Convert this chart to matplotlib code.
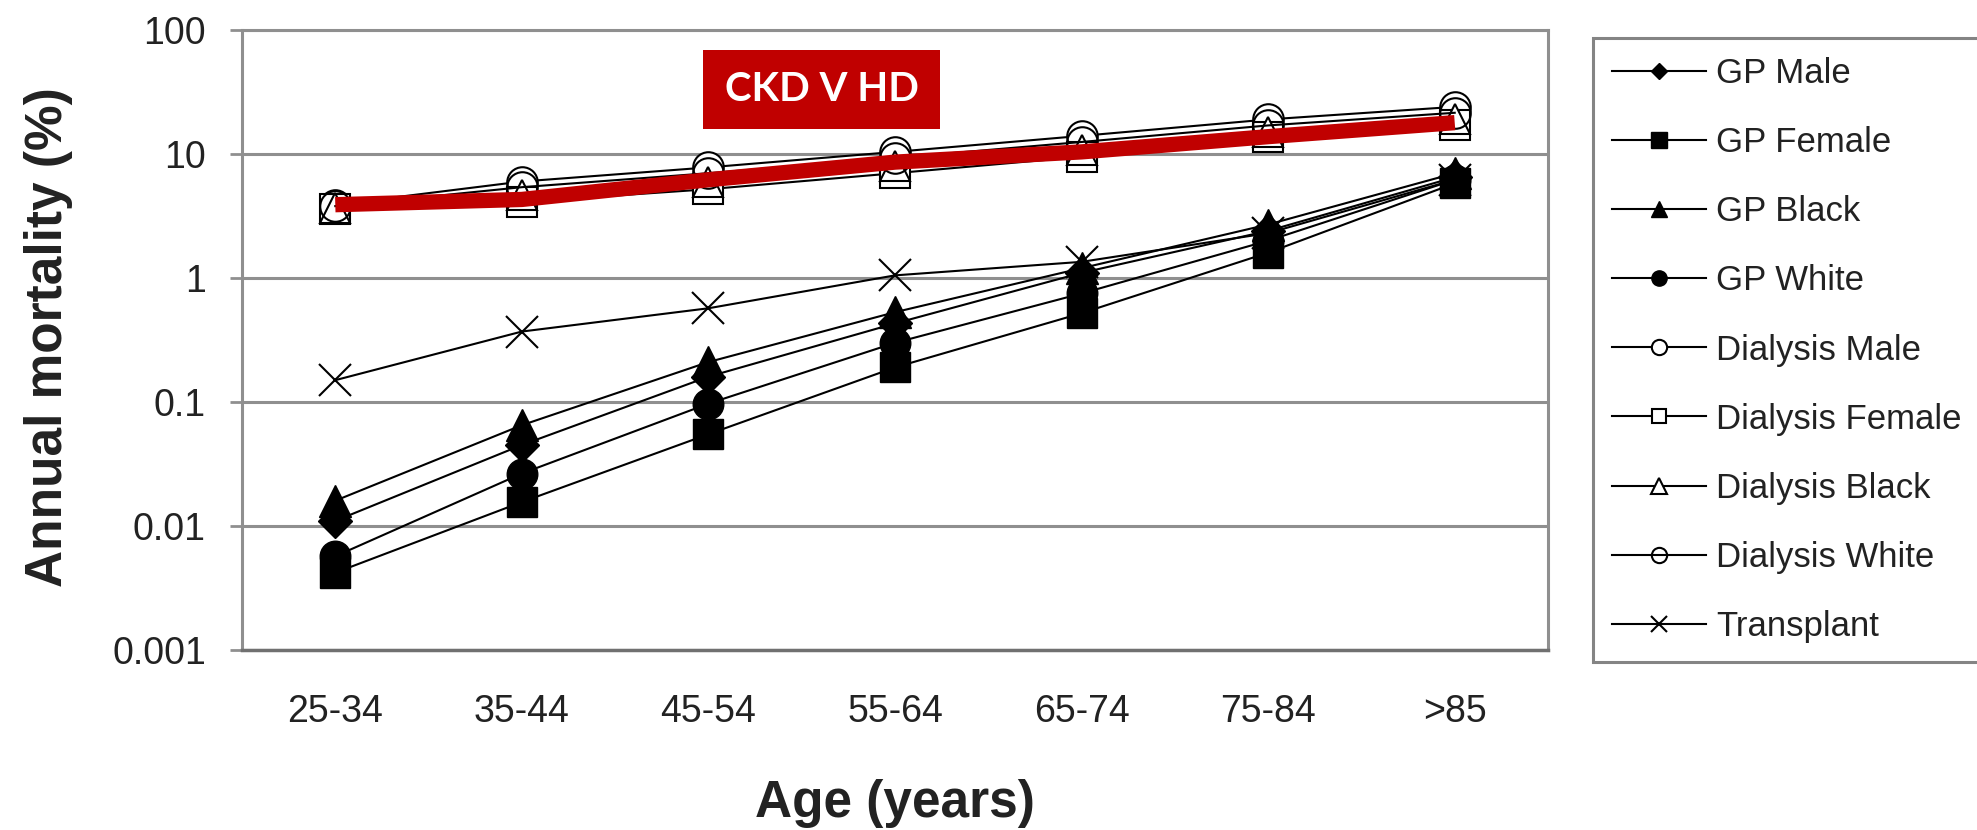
import matplotlib
matplotlib.use("Agg")
import matplotlib.pyplot as plt
from matplotlib.patches import Rectangle

plt.rcParams['font.family'] = ['Liberation Sans', 'DejaVu Sans']

# data (annual mortality, %)
ages = ['25-34', '35-44', '45-54', '55-64', '65-74', '75-84', '>85']
gp_male = [0.011, 0.045, 0.16, 0.43, 1.1, 2.4, 6.5]
gp_female = [0.0042, 0.0156, 0.055, 0.19, 0.52, 1.6, 5.8]
gp_black = [0.016, 0.065, 0.21, 0.53, 1.2, 2.7, 7.0]
gp_white = [0.0057, 0.0265, 0.097, 0.30, 0.75, 2.0, 6.2]
dial_male = [3.9, 6.0, 7.8, 10.4, 14, 19, 24]
dial_female = [3.6, 4.1, 5.2, 7.0, 9.5, 13.7, 17]
dial_black = [3.7, 4.7, 6.0, 8.0, 10.8, 15, 19]
dial_white = [3.8, 5.4, 7.0, 9.3, 12.5, 17, 21.5]
transplant = [0.15, 0.37, 0.57, 1.05, 1.35, 2.3, 6.2]
ckd_hd = [3.9, 4.3, 6.2, 8.6, 10.4, 13.8, 17.9]

y_ticks = [0.001, 0.01, 0.1, 1, 10, 100]
y_labels = ['0.001', '0.01', '0.1', '1', '10', '100']

W, H = 1977, 830
fig = plt.figure(figsize=(W / 100, H / 100), dpi=100)
ax = fig.add_axes([242 / W, 1 - 650 / H, 1306 / W, 620 / H])

x = list(range(len(ages)))
grid_col = '#8f8f8f'

# transplant first so the black GP markers sit over it
ax.plot(x, transplant, color='black', lw=1.5, marker='x', ms=23, mec='black', mew=1.5, label='Transplant', zorder=2)
# GP series, filled markers
ax.plot(x, gp_male, color='black', lw=1.5, marker='D', ms=17, mfc='black', mec='black', label='GP Male', zorder=3)
ax.plot(x, gp_female, color='black', lw=1.5, marker='s', ms=22, mfc='black', mec='black', label='GP Female', zorder=3)
ax.plot(x, gp_black, color='black', lw=1.5, marker='^', ms=23, mfc='black', mec='black', label='GP Black', zorder=3)
ax.plot(x, gp_white, color='black', lw=1.5, marker='o', ms=22, mfc='black', mec='black', label='GP White', zorder=3)
# dialysis series, open markers
ax.plot(x, dial_male, color='black', lw=1.5, marker='o', ms=22, mfc='white', mec='black', mew=1.5, label='Dialysis Male', zorder=3)
ax.plot(x, dial_female, color='black', lw=1.5, marker='s', ms=21, mfc='white', mec='black', mew=1.5, label='Dialysis Female', zorder=3)
ax.plot(x, dial_black, color='black', lw=1.5, marker='^', ms=22, mfc='white', mec='black', mew=1.5, label='Dialysis Black', zorder=3)
ax.plot(x, dial_white, color='black', lw=1.5, marker='o', ms=22, mfc='none', mec='black', mew=1.5, label='Dialysis White', zorder=3)

# red overlay line
ax.plot(x, ckd_hd, color='#C00000', lw=11, solid_capstyle='butt', zorder=10)

ax.set_yscale('log')
ax.set_ylim(0.001, 100)
ax.set_xlim(-0.5, len(ages) - 0.5)
ax.set_yticks(y_ticks)
ax.set_yticklabels(y_labels)
ax.yaxis.set_minor_locator(matplotlib.ticker.NullLocator())
ax.set_xticks(x)
ax.set_xticklabels(ages)

ax.grid(axis='y', color=grid_col, lw=2.2)
ax.set_axisbelow(True)
for s in ['left', 'right', 'top']:
    ax.spines[s].set_color(grid_col)
    ax.spines[s].set_linewidth(2.2)
ax.spines['bottom'].set_color('#707070')
ax.spines['bottom'].set_linewidth(2.5)

ax.tick_params(axis='y', length=9, width=2, color=grid_col, pad=17, labelsize=27, labelcolor='#222222')
ax.tick_params(axis='x', length=0, pad=32, labelsize=27, labelcolor='#222222')

fig.text(49 / W, 1 - 337 / H, 'Annual mortality (%)', rotation=90, ha='center', va='center',
         fontsize=37, fontweight='bold', color='#222222')
fig.text(895 / W, 1 - 803 / H, 'Age (years)', ha='center', va='center',
         fontsize=37, fontweight='bold', color='#222222')

# red label box
ax.add_patch(Rectangle((0.353, 0.840), 0.1815, 0.1275, transform=ax.transAxes,
                       facecolor='#C00000', edgecolor='none', zorder=11, clip_on=False))
ax.text(0.353 + 0.1815 / 2, 0.840 + 0.1275 / 2, 'CKD V HD', transform=ax.transAxes,
        ha='center', va='center', color='white', fontsize=29, fontweight='bold',
        family=['Lato', 'DejaVu Sans'], zorder=12)

# legend in the reference order
handles, labels = ax.get_legend_handles_labels()
order = ['GP Male', 'GP Female', 'GP Black', 'GP White', 'Dialysis Male',
         'Dialysis Female', 'Dialysis Black', 'Dialysis White', 'Transplant']
hmap = dict(zip(labels, handles))
leg = fig.legend([hmap[k] for k in order], order, loc='upper left',
                 bbox_to_anchor=(1593 / W, 1 - 38 / H), borderaxespad=0,
                 fontsize=25, markerscale=0.5, handlelength=2.7, handletextpad=0.3,
                 labelspacing=1.04, borderpad=0.55, fancybox=False, frameon=True)
leg.get_frame().set_edgecolor('#666666')
leg.get_frame().set_linewidth(2.2)
for t in leg.get_texts():
    t.set_color('#222222')

fig.savefig('out.png', dpi=100)
